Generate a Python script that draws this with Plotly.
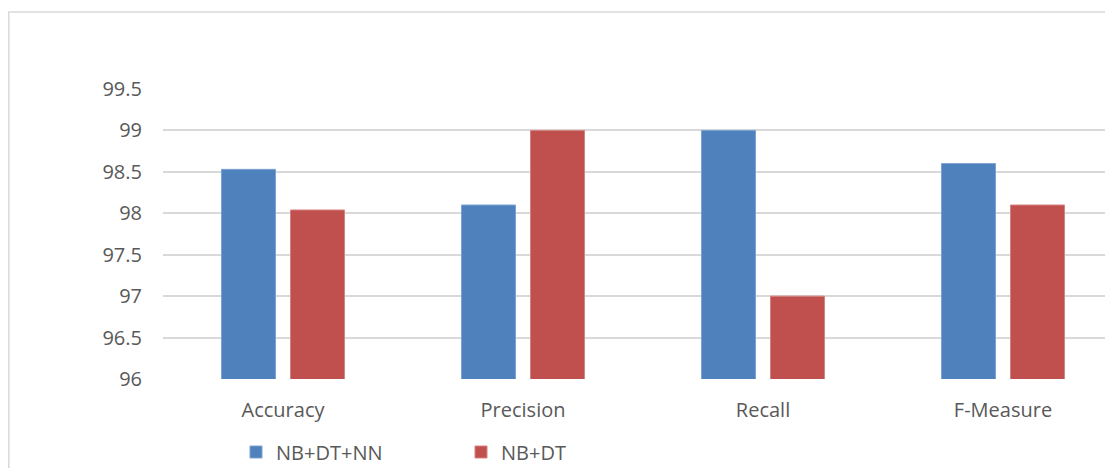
import plotly.graph_objects as go

categories = ["Accuracy", "Precision", "Recall", "F-Measure"]
series_names = ["NB+DT+NN", "NB+DT"]
nb_dt_nn = [98.53, 98.1, 99.0, 98.6]
nb_dt = [98.04, 99.0, 97.0, 98.1]
y_ticks = [96, 96.5, 97, 97.5, 98, 98.5, 99, 99.5]
y_tick_labels = ["96", "96.5", "97", "97.5", "98", "98.5", "99", "99.5"]

colors = ["#4F81BD", "#C0504D"]
lines = ["#7FA3D1", "#D58380"]

fig = go.Figure()
for name, vals, c, lc in zip(series_names, [nb_dt_nn, nb_dt], colors, lines):
    fig.add_trace(go.Bar(x=categories, y=vals, name=name,
                         marker=dict(color=c, line=dict(color=lc, width=1))))

# page body has an 8px margin; figure coordinates are screen - 8
W, H = 1105, 460
L, R, T, B = 155, 0, 81, 89
pw = W - L - R
ph = H - T - B

fig.update_layout(
    width=W, height=H,
    margin=dict(l=L, r=R, t=T, b=B, autoexpand=False),
    paper_bgcolor="white", plot_bgcolor="white",
    barmode="group", bargap=0.425, bargroupgap=0.217,
    font=dict(family="Open Sans, Liberation Sans, sans-serif", color="#595959", size=20),
    xaxis=dict(range=[-0.5, 3.5 - 10 / 240], showgrid=False, showline=False,
               ticks="", tickfont=dict(size=20), ticklabelstandoff=17, automargin=False),
    yaxis=dict(range=[96, 99.5], tickvals=y_ticks, ticktext=y_tick_labels,
               showgrid=True, gridcolor="#D9D9D9", gridwidth=1.5, zeroline=False,
               showline=False, ticks="", tickfont=dict(size=20), ticklabelstandoff=20,
               automargin=False),
    legend=dict(orientation="h", x=(228 - L) / pw, xanchor="left",
                y=(371 - 444) / ph, yanchor="middle", entrywidth=180,
                entrywidthmode="pixels", font=dict(size=20, color="#595959"),
                bgcolor="rgba(0,0,0,0)"),
    showlegend=True,
)

fig.add_shape(type="rect", xref="paper", yref="paper",
              x0=(0.8 - L) / pw, x1=1.05, y0=-0.6, y1=1 + (T - 4) / ph,
              line=dict(color="#D9D9D9", width=1.5), fillcolor="rgba(0,0,0,0)", layer="below")

fig.write_html("out.html")
